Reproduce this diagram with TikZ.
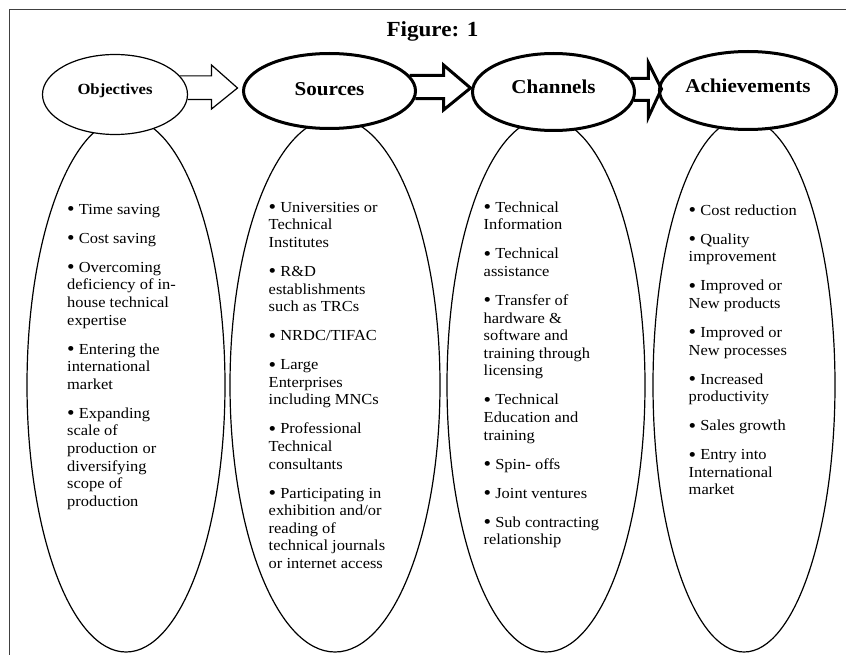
\documentclass[tikz,border=0pt]{standalone}
\usepackage{fontspec}
\setmainfont[FakeStretch=1.075]{Liberation Serif}
\usetikzlibrary{shapes.geometric,calc}

\newcommand{\bul}{\raisebox{-1.5pt}{\fontsize{20}{17.6}\selectfont•}}

\tikzset{
  thinline/.style={draw=black,line width=1.2pt},
  thickline/.style={draw=black,line width=3pt},
  bigoval/.style={thinline,ellipse,inner sep=0pt,minimum width=#1,minimum height=534pt},
  headoval/.style={ellipse,fill=white,inner sep=0pt,text height=13pt,
    font=\bfseries\fontsize{19.6}{22}\selectfont},
  listtext/.style={align=left,anchor=north west,inner sep=0pt,
    font=\fontsize{15.3}{17.6}\selectfont}
}

\begin{document}
\begin{tikzpicture}[x=1pt,y=-1pt]
  \useasboundingbox (0,0) rectangle (846,655);
  % frame and title
  \draw[black!75,line width=1pt] (9.5,655) -- (9.5,9.5) -- (846,9.5);
  \node[anchor=base,font=\bfseries\fontsize{21.5}{24}\selectfont] (title) at (432.5,37) {Figure: 1};

  % big ovals
  \node[bigoval=198pt] (objbody) at (126,385) {};
  \node[bigoval=210pt] (srcbody) at (335,385) {};
  \node[bigoval=198pt] (chbody) at (546,385) {};
  \node[bigoval=182pt] (achbody) at (744,385) {};

  % heads
  \node[headoval,thinline,minimum width=145pt,minimum height=80pt,text depth=13pt,
    font=\bfseries\fontsize{15.5}{18}\selectfont] (obj) at (115,94.5) {Objectives};
  \node[headoval,thickline,minimum width=172pt,minimum height=75pt,text depth=4pt] (src) at (329.5,91) {Sources};
  \node[headoval,thickline,minimum width=162pt,minimum height=77pt,text depth=9pt] (ch) at (553.5,92) {Channels};
  \node[headoval,thickline,minimum width=177pt,minimum height=78pt,text depth=8.6pt] (ach) at (748,90.5) {Achievements};

  % block arrows
  \coordinate (tip1) at ($(src.west)+(-4.5,-3)$);
  \coordinate (neck1) at ($(tip1)+(-26,0)$);
  \draw[thinline,line join=miter] (obj.16) -- (obj.16 -| neck1) -- ($(neck1)+(0,-23)$) -- (tip1)
    -- ($(neck1)+(0,21)$) -- (obj.-4 -| neck1) -- (obj.-4);
  \coordinate (tip2) at ($(ch.west)+(-0.5,-4)$);
  \coordinate (neck2) at ($(tip2)+(-27,0)$);
  \draw[thickline,line join=miter] (src.11) -- (src.11 -| neck2) -- ($(neck2)+(0,-23)$) -- (tip2)
    -- ($(neck2)+(0,22)$) -- (src.-5 -| neck2) -- (src.-5);
  \coordinate (tip3) at ($(ach.west)+(3.5,-1.5)$);
  \coordinate (neck3) at ($(tip3)+(-13,0)$);
  \draw[thickline,line join=miter] (ch.10) -- (ch.10 -| neck3) -- ($(neck3)+(0,-26)$) -- (tip3)
    -- ($(neck3)+(0,28)$) -- (ch.-6 -| neck3) -- (ch.-6);

  % lists
  \node[listtext] (objlist) at (67,201.7) {\strut\bul{} Time saving\\[11.4pt]
    \bul{} Cost saving\\[11.4pt]
    \bul{} Overcoming\\deficiency of in-\\house technical\\expertise\\[11.4pt]
    \bul{} Entering the\\international\\market\\[11.4pt]
    \bul{} Expanding\\scale of\\production or\\diversifying\\scope of\\production};
  \node[listtext] (srclist) at (268.5,199.7) {\strut\bul{} Universities or\\Technical\\Institutes\\[11.4pt]
    \bul{} R\&D\\establishments\\such as TRCs\\[11.4pt]
    \bul{} NRDC/TIFAC\\[11.4pt]
    \bul{} Large\\Enterprises\\including MNCs\\[11.4pt]
    \bul{} Professional\\Technical\\consultants\\[11.4pt]
    \bul{} Participating in\\exhibition and/or\\reading of\\technical journals\\or internet access};
  \node[listtext] (chlist) at (483.5,199.7) {\strut\bul{} Technical\\Information\\[11.4pt]
    \bul{} Technical\\assistance\\[11.4pt]
    \bul{} Transfer of\\hardware \&\\software and\\training through\\licensing\\[11.4pt]
    \bul{} Technical\\Education and\\training\\[11.4pt]
    \bul{} Spin- offs\\[11.4pt]
    \bul{} Joint ventures\\[11.4pt]
    \bul{} Sub contracting\\relationship};
  \node[listtext] (achlist) at (688.5,202.7) {\strut\bul{} Cost reduction\\[11.4pt]
    \bul{} Quality\\improvement\\[11.4pt]
    \bul{} Improved or\\New products\\[11.4pt]
    \bul{} Improved or\\New processes\\[11.4pt]
    \bul{} Increased\\productivity\\[11.4pt]
    \bul{} Sales growth\\[11.4pt]
    \bul{} Entry into\\International\\market};
\end{tikzpicture}
\end{document}
